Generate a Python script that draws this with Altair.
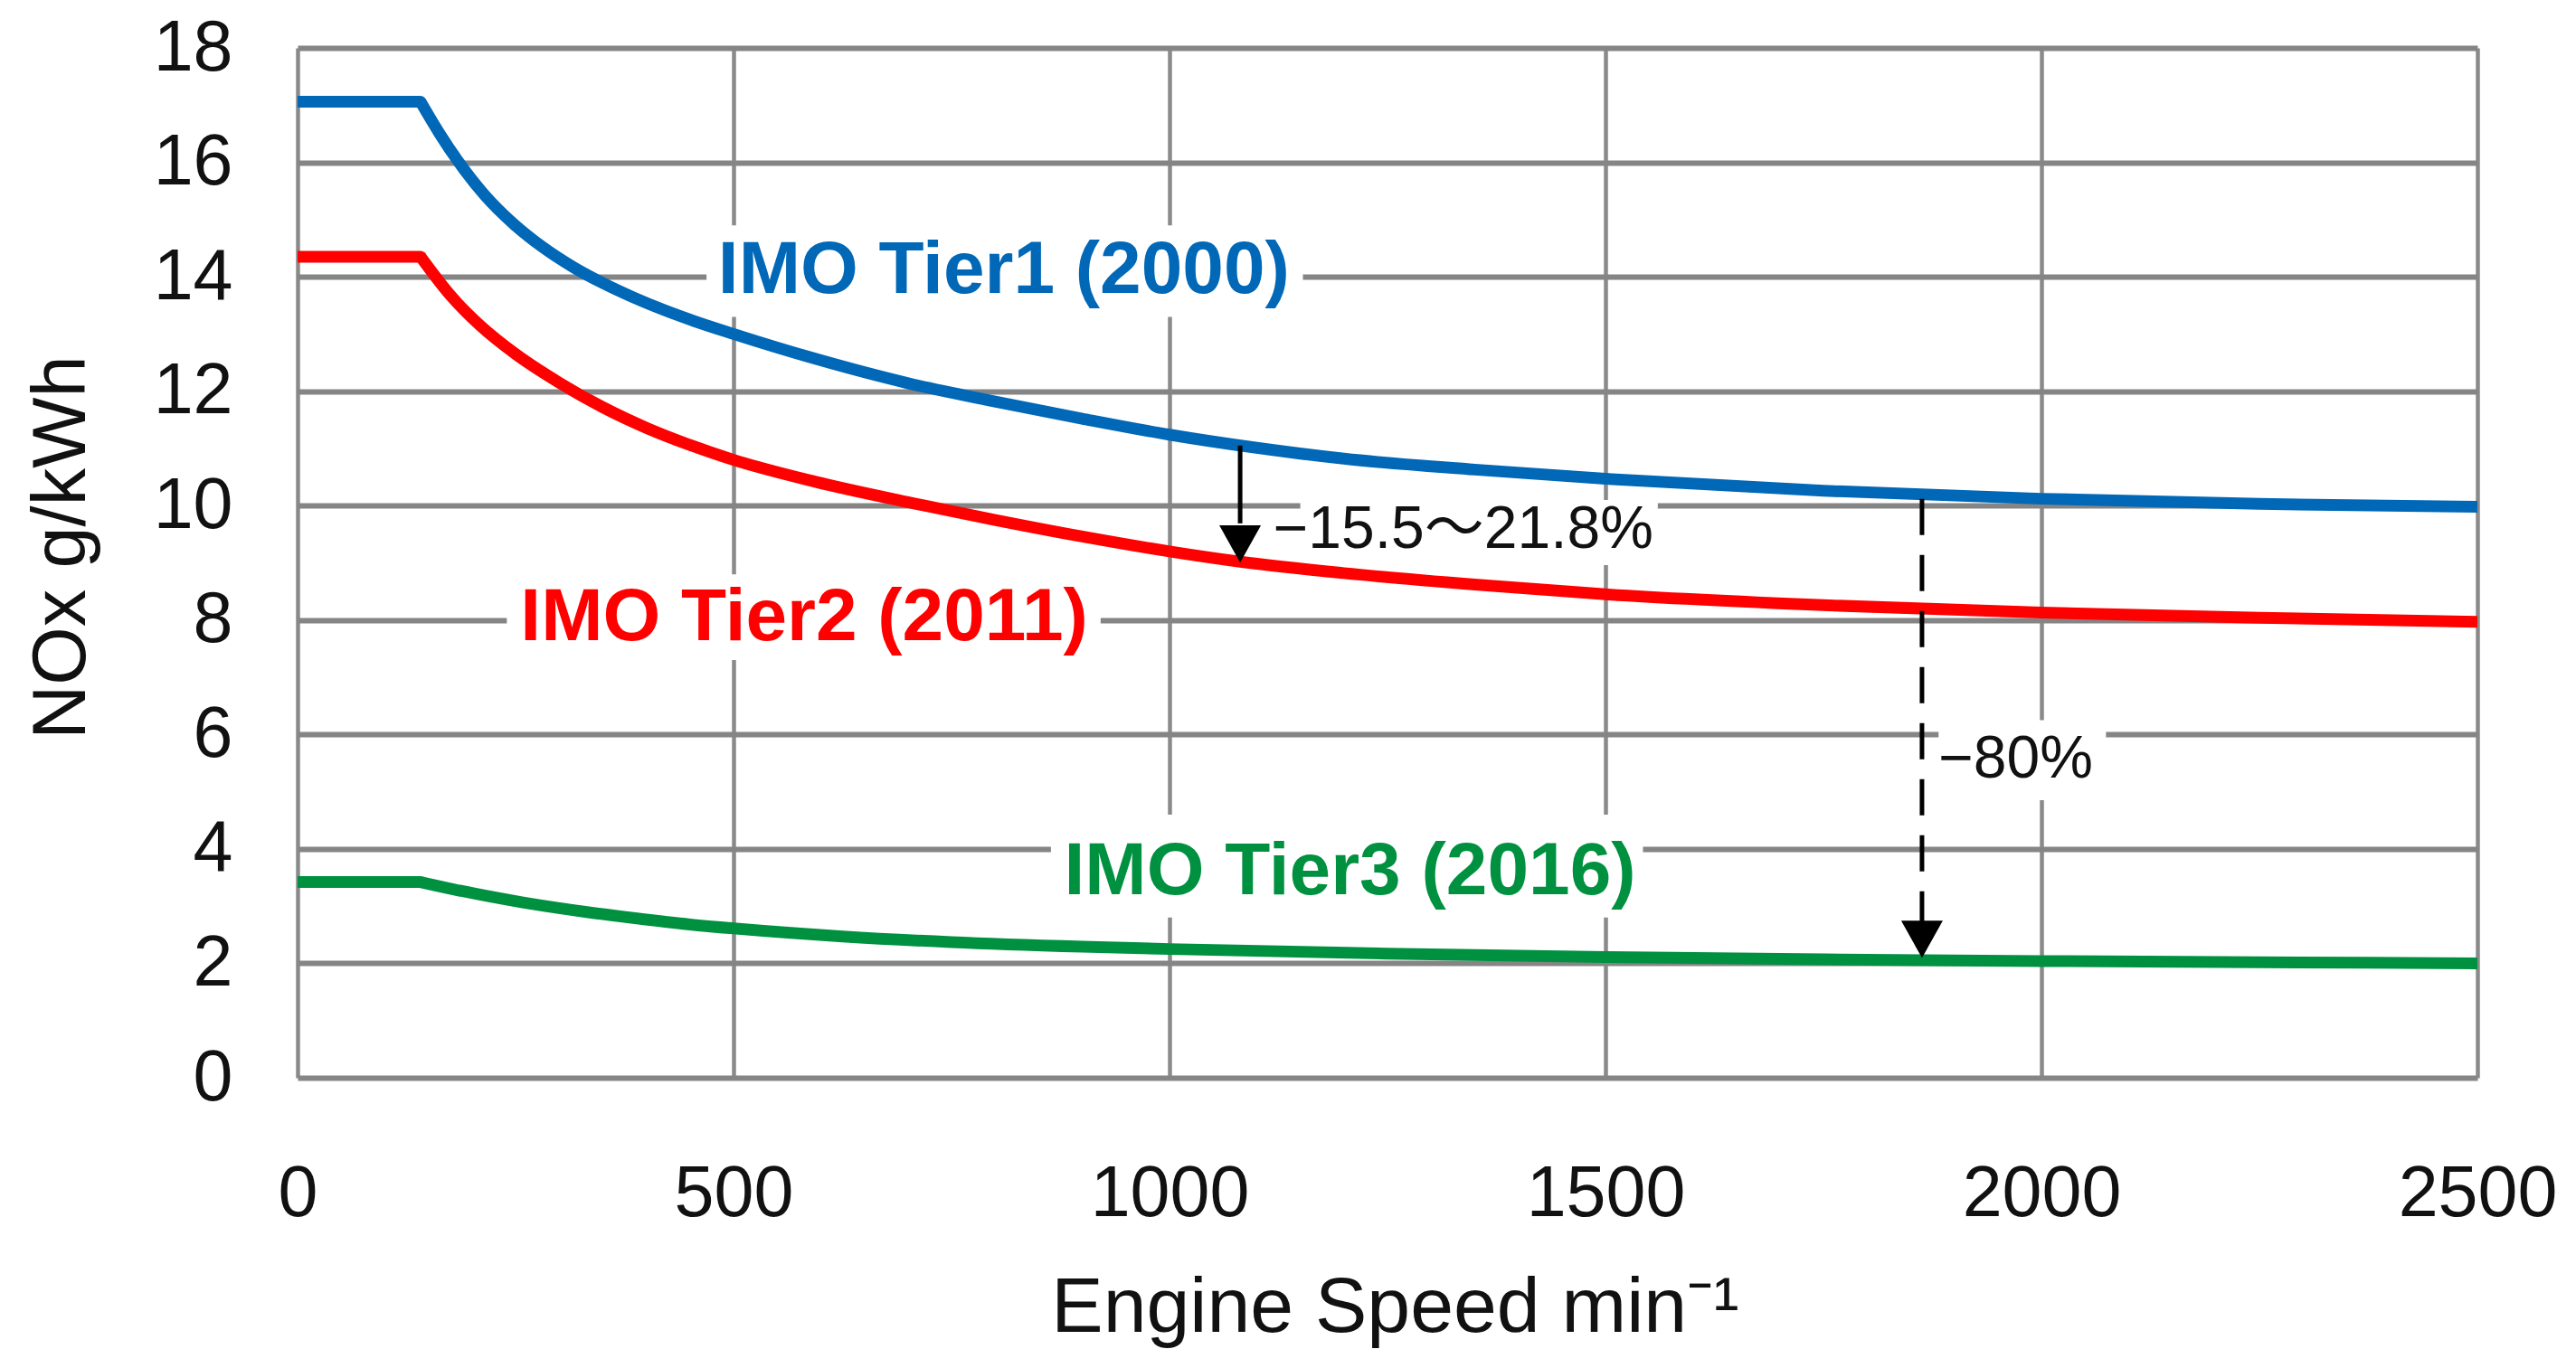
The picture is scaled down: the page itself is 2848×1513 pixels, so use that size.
import altair as alt
import pandas as pd

# ---------------- data ----------------
tier1_rpm = [141, 163, 185, 215, 248, 280, 316, 350, 385, 420, 454, 500, 593, 700, 800, 900, 1000, 1100, 1200, 1350, 1500, 1750, 2000, 2250, 2500]
tier1_nox = [17.06, 16.5, 16.0, 15.42, 14.92, 14.53, 14.17, 13.89, 13.64, 13.42, 13.23, 13.0, 12.57, 12.14, 11.82, 11.52, 11.24, 11.01, 10.82, 10.63, 10.47, 10.26, 10.12, 10.03, 9.98]
tier1_flat_rpm = [0, 141]
tier1_flat_nox = [17.06, 17.06]

tier2_rpm = [141, 175, 210, 250, 300, 350, 400, 450, 500, 593, 700, 800, 900, 1000, 1081, 1200, 1350, 1500, 1750, 2000, 2250, 2500]
tier2_nox = [14.35, 13.68, 13.14, 12.65, 12.15, 11.72, 11.36, 11.06, 10.8, 10.42, 10.06, 9.75, 9.46, 9.2, 9.02, 8.82, 8.62, 8.45, 8.26, 8.13, 8.04, 7.97]
tier2_flat_rpm = [0, 141]
tier2_flat_nox = [14.35, 14.35]

tier3_rpm = [141, 180, 220, 268, 330, 387, 450, 500, 625, 750, 900, 1000, 1250, 1500, 1750, 2000, 2250, 2500]
tier3_nox = [3.42, 3.29, 3.17, 3.04, 2.9, 2.79, 2.68, 2.61, 2.47, 2.37, 2.29, 2.25, 2.17, 2.11, 2.07, 2.04, 2.02, 2.0]
tier3_flat_rpm = [0, 141]
tier3_flat_nox = [3.42, 3.42]

tiers = ["Tier1", "Tier2", "Tier3"]
tier_colors = ["#0068b7", "#ff0000", "#009140"]

x_ticks = [0, 500, 1000, 1500, 2000, 2500]
y_ticks = [0, 2, 4, 6, 8, 10, 12, 14, 16, 18]

label_text = ["IMO Tier1 (2000)", "IMO Tier2 (2011)", "IMO Tier3 (2016)"]
label_x = [810, 581, 1207]
label_y = [14.11, 8.04, 3.60]

pct_text = ["\u221215.5\u301c21.8%", "\u221280%"]
pct_x = [1119, 1882]
pct_y = [9.58, 5.56]

# white boxes behind the annotations (hide the grid)
box_x = [469, 240, 864, 1150, 1882]
box_x2 = [1153, 921, 1543, 1560, 2074]
box_y = [13.3, 7.3, 2.8, 8.96, 4.85]
box_y2 = [14.9, 8.8, 4.6, 10.1, 6.25]

# arrows
arrow_x = [1081, 1863]
arrow_y = [11.05, 10.12]
arrow_y2 = [9.69, 2.73]
head_y = [9.33, 2.42]

FONT = "Liberation Sans, Arial, Helvetica, Noto Sans CJK JP, sans-serif"

# ---------------- tables ----------------
def series(rpm, nox, tier):
    return pd.DataFrame({"rpm": rpm, "nox": nox, "tier": tier})

curves = pd.concat([
    series(tier1_rpm, tier1_nox, "Tier1"),
    series(tier2_rpm, tier2_nox, "Tier2"),
    series(tier3_rpm, tier3_nox, "Tier3"),
])
flats = pd.concat([
    series(tier1_flat_rpm, tier1_flat_nox, "Tier1"),
    series(tier2_flat_rpm, tier2_flat_nox, "Tier2"),
    series(tier3_flat_rpm, tier3_flat_nox, "Tier3"),
])
labels = pd.DataFrame({"text": label_text, "rpm": label_x, "nox": label_y, "tier": tiers})
pcts = pd.DataFrame({"text": pct_text, "rpm": pct_x, "nox": pct_y})
boxes = pd.DataFrame({"rpm": box_x, "rpm2": box_x2, "nox": box_y, "nox2": box_y2})
solid_arrow = pd.DataFrame({"rpm": arrow_x[:1], "nox": arrow_y[:1], "nox2": arrow_y2[:1]})
dash_arrow = pd.DataFrame({"rpm": arrow_x[1:], "nox": arrow_y[1:], "nox2": arrow_y2[1:]})
heads = pd.DataFrame({"rpm": arrow_x, "nox": head_y})

# ---------------- scales / axes ----------------
xscale = alt.Scale(domain=[0, 2500], nice=False, zero=False)
yscale = alt.Scale(domain=[0, 18], nice=False, zero=False)
cscale = alt.Scale(domain=tiers, range=tier_colors)

xaxis = alt.Axis(
    values=x_ticks, format="d", grid=True, gridColor="#8a8a8a", gridWidth=4.5, gridOpacity=1,
    domain=False, ticks=False, tickSize=0,
    labelFont=FONT, labelFontSize=79, labelColor="#111111", labelPadding=90, labelLimit=600,
    labelFlush=False, labelOverlap=False, labelBound=False,
    titleFont=FONT, titleFontSize=86, titleFontWeight="normal", titleColor="#111111",
    titleX=1213, titleY=280, titleBaseline="alphabetic", titleAlign="center", titleLimit=2000,
)
yaxis = alt.Axis(
    values=y_ticks, format="d", grid=True, gridColor="#858585", gridWidth=6, gridOpacity=1,
    domain=False, ticks=False, tickSize=0,
    labelFont=FONT, labelFontSize=79, labelColor="#111111", labelPadding=72, labelLimit=600,
    labelOverlap=False, labelBound=False, labelFlush=False,
    titleFont=FONT, titleFontSize=83, titleFontWeight="normal", titleColor="#111111",
    titleAngle=270, titleX=-236, titleY=552, titleBaseline="alphabetic", titleAlign="center",
    titleLimit=2000,
)

XT = "Engine Speed min\u207b\u00b9"
YT = "NOx g/kWh"

def X():
    return alt.X("rpm:Q", scale=xscale, axis=xaxis, title=XT)

def Y():
    return alt.Y("nox:Q", scale=yscale, axis=yaxis, title=YT)

base_rect = alt.Chart(boxes).mark_rect(color="white", opacity=1).encode(
    x=X(), x2="rpm2:Q", y=Y(), y2="nox2:Q"
)

flat_lines = alt.Chart(flats).mark_line(strokeWidth=13, strokeCap="round", clip=True).encode(
    x=X(), y=Y(), color=alt.Color("tier:N", scale=cscale, legend=None), detail="tier:N"
)

curve_lines = alt.Chart(curves).mark_line(strokeWidth=13, interpolate="monotone", clip=True).encode(
    x=X(), y=Y(), color=alt.Color("tier:N", scale=cscale, legend=None), detail="tier:N"
)

rule_solid = alt.Chart(solid_arrow).mark_rule(color="black", strokeWidth=5).encode(
    x=X(), y=Y(), y2="nox2:Q"
)
rule_dash = alt.Chart(dash_arrow).mark_rule(color="black", strokeWidth=5, strokeDash=[40, 22]).encode(
    x=X(), y=Y(), y2="nox2:Q"
)
head_marks = alt.Chart(heads).mark_point(
    shape="M-1,-0.9L1,-0.9L0,0.9Z", size=2116, filled=True, color="black", opacity=1, strokeWidth=0
).encode(x=X(), y=Y())

label_marks = alt.Chart(labels).mark_text(
    font=FONT, fontSize=82, fontWeight="bold", align="center", baseline="middle"
).encode(
    x=X(), y=Y(), text="text:N", color=alt.Color("tier:N", scale=cscale, legend=None)
)

pct_marks = alt.Chart(pcts).mark_text(
    font=FONT, fontSize=66, align="left", baseline="middle", color="#111111"
).encode(x=X(), y=Y(), text="text:N")

chart = alt.layer(
    base_rect, flat_lines, curve_lines, rule_solid, rule_dash, head_marks, label_marks, pct_marks
).properties(
    width=2410, height=1139,
    padding={"left": 321, "top": 45, "right": 100, "bottom": 300},
    autosize="none",
    background="white",
).configure_view(stroke=None)

chart.save("out.html", embed_options={"renderer": "svg", "actions": False})
